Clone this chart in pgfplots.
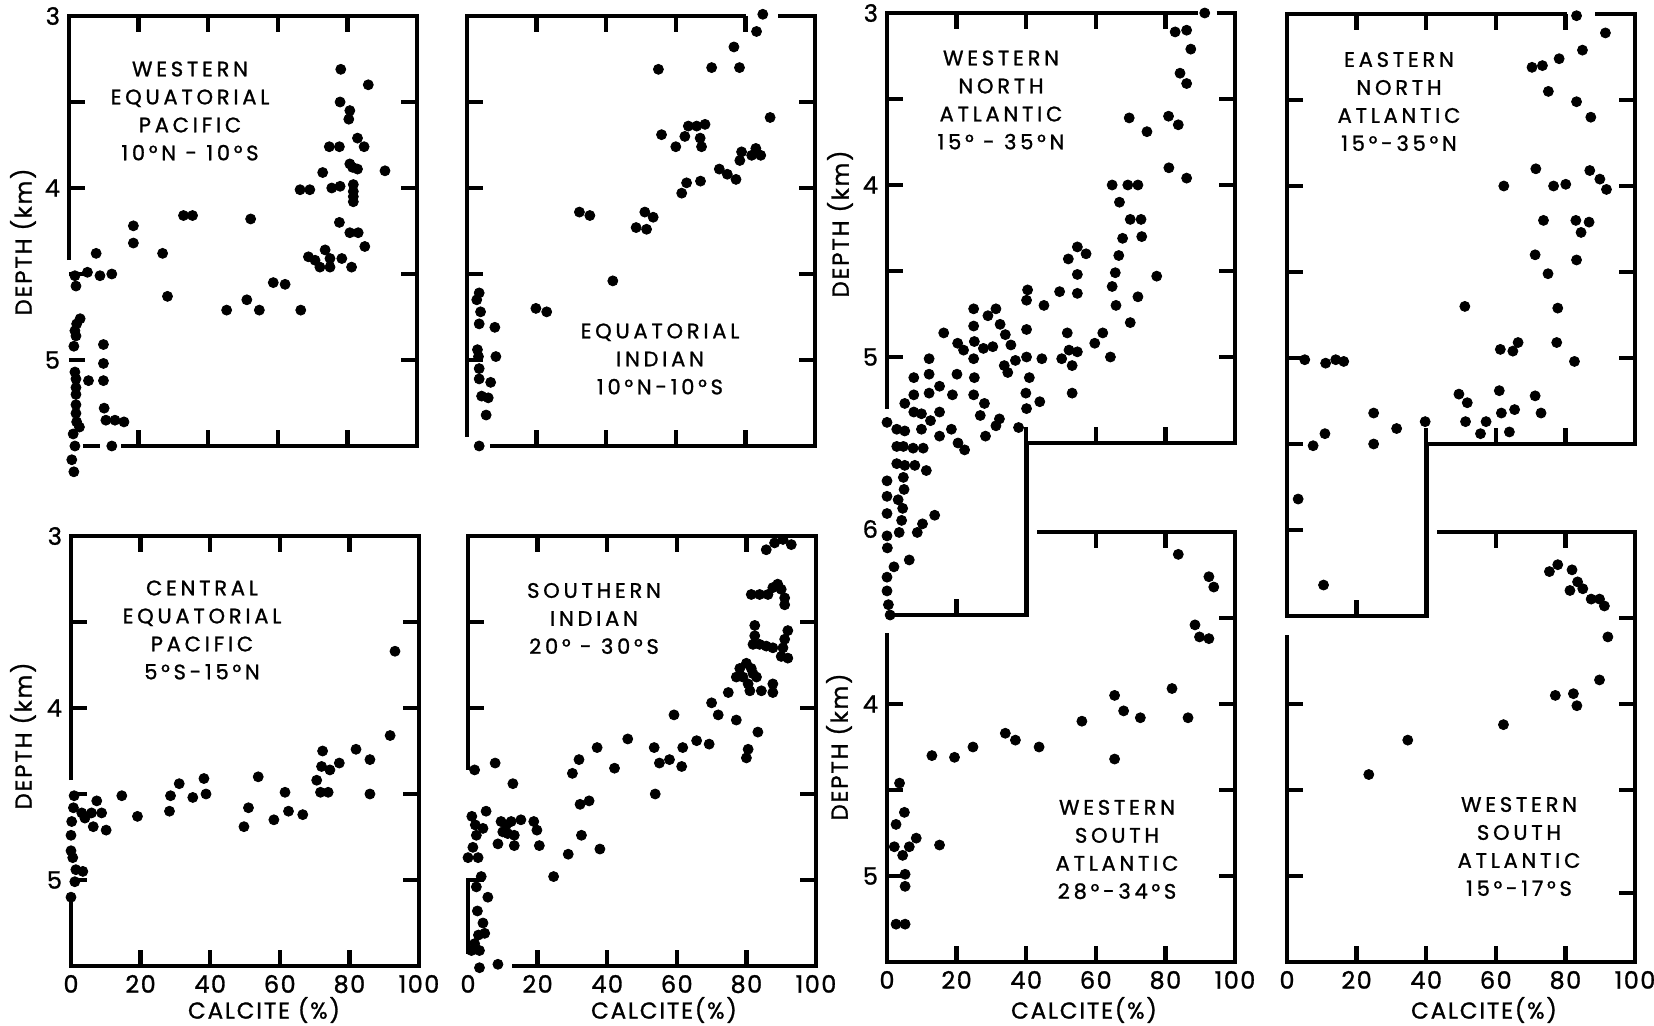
\documentclass[border=0pt]{standalone}
\usepackage{fontspec}
\setmainfont{Poppins}
\newfontfamily\labfont[LetterSpace=18, FakeBold=1.2]{Poppins}
\newfontfamily\axlfont[LetterSpace=8, FakeBold=1.2]{Poppins}
\newfontfamily\numfont[LetterSpace=6, FakeBold=1.2]{Poppins}
\usepackage{pgfplots}
\pgfplotsset{compat=1.18}
\newcommand\ttlfont{\labfont\fontsize{10.5}{14}\selectfont}
\newcommand\axfont{\axlfont\fontsize{11.5}{12}\selectfont}
\newcommand\tT[2]{\pgfplotsinvokeforeach{#2}{\draw[tk] (axis cs:##1,#1) -- ++(0pt,-8pt);}}
\newcommand\tB[2]{\pgfplotsinvokeforeach{#2}{\draw[tk] (axis cs:##1,#1) -- ++(0pt,8pt);}}
\newcommand\tL[2]{\pgfplotsinvokeforeach{#2}{\draw[tk] (axis cs:#1,##1) -- ++(8pt,0pt);}}
\newcommand\tR[2]{\pgfplotsinvokeforeach{#2}{\draw[tk] (axis cs:#1,##1) -- ++(-8pt,0pt);}}
\begin{document}
\begin{tikzpicture}
\useasboundingbox (0,0) rectangle (827pt,-513pt);
\tikzset{fr/.style={line width=2.3pt, black, line join=miter},
         tk/.style={line width=2.2pt, black}}
\pgfplotsset{
  panel/.style={
    scale only axis, width=174pt, anchor=north west,
    xmin=0, xmax=100, y dir=reverse,
    axis line style={draw=none},
    major tick length=0pt, tick style={draw=none},
    clip=false,
    xtick pos=bottom, ytick pos=left,
    ticklabel style={font=\numfont\fontsize{12}{12}\selectfont},
    /pgf/number format/assume math mode=true,
    yticklabel style={xshift=-1pt},
    xticklabel style={yshift=-1pt},
  },
  pts/.style={only marks, mark=*, mark size=2.5pt, black},
}
% ---------- P1 Western Equatorial Pacific
\begin{axis}[panel, at={(34.5pt,-8pt)}, height=215pt, ymin=3, ymax=5.5, ytick={3,4,5}, xtick=\empty]
\addplot[pts] coordinates {(78.1,3.31) (86.0,3.40) (77.9,3.50) (80.7,3.55) (80.4,3.60) (82.9,3.71) (84.8,3.76) (74.8,3.76) (77.7,3.76) (80.7,3.86) (82.9,3.89) (81.5,3.88) (90.8,3.90) (72.9,3.91) (66.4,4.01) (69.2,4.01) (75.5,4.00) (77.9,3.99) (81.7,3.98) (81.7,4.02) (81.7,4.05) (81.7,4.08) (77.7,4.20) (80.7,4.26) (83.1,4.26) (85.0,4.34) (73.6,4.36) (68.8,4.40) (70.7,4.42) (75.0,4.41) (78.4,4.41) (72.1,4.46) (75.0,4.46) (81.2,4.46) (58.7,4.55) (62.1,4.56) (51.1,4.65) (45.3,4.71) (54.7,4.71) (66.6,4.71) (52.2,4.18) (32.9,4.16) (35.5,4.16) (18.5,4.22) (18.5,4.32) (26.9,4.38) (28.3,4.63) (7.8,4.38) (5.3,4.49) (1.7,4.51) (2.0,4.57) (8.9,4.51) (12.3,4.50) (3.2,4.76) (2.2,4.79) (1.7,4.83) (2.0,4.86) (1.4,4.92) (9.9,4.91) (9.9,5.02) (9.9,5.12) (5.6,5.12) (1.7,5.07) (2.0,5.11) (2.0,5.16) (2.0,5.20) (2.0,5.26) (2.0,5.31) (2.2,5.36) (3.0,5.39) (1.2,5.43) (1.7,5.50) (0.8,5.58) (1.4,5.65) (10.1,5.28) (10.6,5.35) (13.2,5.35) (15.8,5.36) (12.3,5.50)};
\draw[fr] (axis cs:0,4.42) -- (axis cs:0,3) -- (axis cs:100,3) -- (axis cs:100,5.5) -- (axis cs:15,5.5);
\draw[fr] (axis cs:4,5.5) -- (axis cs:9,5.5);
\tT{3}{20,40,60,80}\tB{5.5}{20,40,60,80}\tL{0}{3.5,4,4.5,5}\tR{100}{3.5,4,4.5,5}
\end{axis}
% ---------- P2 Equatorial Indian
\begin{axis}[panel, at={(233.5pt,-8pt)}, height=215pt, ymin=3, ymax=5.5, ytick=\empty, xtick=\empty]
\addplot[pts] coordinates {(85.0,2.99) (83.2,3.09) (76.7,3.18) (70.3,3.30) (78.3,3.30) (55.0,3.31) (87.1,3.59) (55.9,3.69) (63.6,3.64) (66.0,3.64) (68.4,3.63) (62.6,3.70) (67.0,3.71) (67.4,3.76) (60.0,3.76) (78.9,3.79) (78.4,3.84) (81.8,3.81) (83.0,3.77) (84.4,3.81) (72.5,3.89) (74.8,3.92) (77.3,3.95) (63.1,3.97) (61.7,4.03) (67.1,3.96) (32.3,4.14) (35.3,4.16) (51.1,4.14) (53.5,4.17) (48.6,4.23) (51.6,4.24) (41.9,4.54) (19.8,4.70) (22.9,4.72) (3.5,4.61) (2.8,4.65) (3.9,4.72) (3.5,4.79) (8.0,4.81) (3.0,4.94) (3.3,4.98) (8.3,4.98) (3.5,5.05) (3.5,5.11) (6.8,5.13) (4.2,5.21) (6.1,5.22) (5.5,5.32) (3.5,5.50)};
\draw[fr] (axis cs:80.2,3) -- (axis cs:0,3) -- (axis cs:0,5.45);
\draw[fr] (axis cs:6.6,5.5) -- (axis cs:100,5.5) -- (axis cs:100,3) -- (axis cs:89.5,3);
\tT{3}{20,40,60,80}\tB{5.5}{20,40,60,80}\tL{0}{3.5,4,4.5,5}\tR{100}{3.5,4,4.5,5}
\end{axis}
% ---------- P3 Central Equatorial Pacific
\begin{axis}[panel, at={(35.5pt,-268pt)}, height=215pt, ymin=3, ymax=5.5, ytick={3,4,5}, xtick={0,20,40,60,80,100}]
\addplot[pts] coordinates {(93.1,3.67) (91.7,4.16) (81.9,4.24) (85.9,4.30) (72.3,4.25) (72.0,4.34) (74.4,4.36) (77.1,4.32) (70.6,4.42) (71.7,4.49) (73.9,4.49) (85.9,4.50) (53.8,4.40) (38.2,4.41) (38.8,4.50) (31.1,4.44) (28.6,4.51) (35.0,4.52) (28.3,4.60) (61.5,4.49) (62.5,4.60) (66.6,4.62) (58.3,4.65) (51.0,4.58) (49.7,4.69) (14.6,4.51) (19.1,4.63) (0.9,4.51) (0.7,4.58) (0.2,4.66) (3.1,4.61) (4.0,4.64) (7.4,4.54) (5.9,4.61) (8.8,4.61) (6.4,4.69) (10.1,4.71) (0,4.74) (0,4.83) (0.5,4.87) (1.4,4.94) (3.4,4.95) (1.1,5.01) (0,5.10)};
\draw[fr] (axis cs:0,4.42) -- (axis cs:0,3) -- (axis cs:100,3) -- (axis cs:100,5.5) -- (axis cs:0,5.5) -- (axis cs:0,5.12);
\tT{3}{20,40,60,80}\tB{5.5}{20,40,60,80}\tL{0}{3.5,4,4.5,5}\tR{100}{3.5,4,4.5,5}
\end{axis}
% ---------- P4 Southern Indian
\begin{axis}[panel, at={(234pt,-268pt)}, height=215pt, ymin=3, ymax=5.5, ytick=\empty, xtick={0,20,40,60,80,100}]
\addplot[pts] coordinates {(85.7,3.08) (88.1,3.04) (90.5,3.02) (92.9,3.05) (81.4,3.34) (83.8,3.34) (86.2,3.34) (87.6,3.30) (89.0,3.28) (90.0,3.31) (91.0,3.36) (91.0,3.40) (82.4,3.52) (82.4,3.58) (81.9,3.63) (83.8,3.63) (85.7,3.64) (87.6,3.65) (91.9,3.55) (91.0,3.60) (90.5,3.65) (90.0,3.70) (91.9,3.71) (80.0,3.74) (81.4,3.77) (78.1,3.77) (77.1,3.82) (79.0,3.82) (81.9,3.80) (82.9,3.82) (80.5,3.86) (81.0,3.90) (84.3,3.90) (87.6,3.86) (87.6,3.91) (74.8,3.91) (70.0,3.97) (71.9,4.04) (77.1,4.07) (83.3,4.14) (65.7,4.19) (69.3,4.21) (80.5,4.24) (80.0,4.29) (59.2,4.04) (45.9,4.18) (37.1,4.23) (31.9,4.30) (30.0,4.38) (42.1,4.35) (53.5,4.23) (55.0,4.32) (57.9,4.30) (61.7,4.23) (61.4,4.34) (53.8,4.50) (32.2,4.56) (34.8,4.54) (32.6,4.74) (28.8,4.85) (37.9,4.82) (24.6,4.98) (1.9,4.36) (7.8,4.32) (12.9,4.44) (5.2,4.60) (1.1,4.63) (2.1,4.68) (4.3,4.70) (2.4,4.74) (1.4,4.81) (0,4.87) (2.9,4.87) (9.5,4.66) (11.0,4.68) (12.4,4.66) (10.0,4.72) (11.4,4.73) (13.3,4.74) (13.3,4.80) (8.6,4.79) (15.2,4.65) (18.9,4.66) (19.8,4.71) (20.5,4.80) (3.8,4.98) (2.4,5.04) (5.7,5.10) (2.7,5.18) (4.3,5.25) (4.8,5.31) (3.0,5.32) (1.9,5.37) (3.3,5.41) (1.0,5.41) (3.3,5.51) (8.6,5.49)};
\draw[fr] (axis cs:0,4.36) -- (axis cs:0,3) -- (axis cs:100,3) -- (axis cs:100,5.5) -- (axis cs:12.5,5.5);
\draw[fr] (axis cs:0,4.99) -- (axis cs:0,5.43);
\tT{3}{20,40,60,80}\tB{5.5}{20,40,60,80}\tL{0}{3.5,4,5}\tR{100}{3.5,4,4.5,5}
\end{axis}
% ---------- P5 Western North Atlantic
\begin{axis}[panel, at={(443.5pt,-6.5pt)}, height=301pt, ymin=3, ymax=6.5, ytick={3,4,5,6}, xtick=\empty]
\addplot[pts] coordinates {(91.3,3.00) (82.8,3.11) (86.1,3.10) (87.3,3.21) (84.2,3.35) (86.1,3.41) (69.6,3.61) (80.9,3.60) (83.7,3.65) (74.7,3.69) (81.0,3.90) (86.1,3.96) (64.7,4.00) (69.2,4.00) (72.1,4.00) (66.8,4.10) (69.9,4.20) (73.0,4.20) (67.7,4.31) (73.2,4.30) (54.7,4.36) (57.2,4.40) (52.1,4.43) (66.6,4.41) (54.7,4.52) (65.6,4.51) (77.5,4.53) (49.6,4.62) (54.7,4.63) (64.7,4.59) (40.4,4.61) (40.1,4.67) (45.1,4.70) (65.8,4.70) (72.1,4.65) (69.9,4.80) (24.9,4.72) (31.3,4.72) (29.0,4.76) (24.9,4.82) (32.5,4.81) (34.0,4.87) (35.6,4.93) (16.3,4.86) (20.3,4.92) (22.0,4.96) (25.1,4.91) (27.7,4.95) (30.4,4.94) (40.1,4.84) (51.8,4.86) (59.7,4.92) (62.0,4.86) (52.3,4.96) (54.7,4.97) (50.2,5.01) (53.2,5.05) (64.2,5.00) (44.5,5.01) (40.1,5.00) (36.9,5.02) (33.7,5.05) (34.7,5.09) (24.9,5.01) (12.1,5.01) (40.9,5.12) (20.1,5.10) (25.1,5.12) (12.1,5.10) (7.7,5.12) (15.1,5.17) (39.9,5.21) (53.2,5.21) (18.8,5.22) (24.9,5.22) (12.1,5.21) (7.7,5.22) (28.0,5.27) (43.9,5.26) (40.1,5.30) (5.1,5.27) (7.7,5.32) (9.9,5.33) (12.5,5.37) (15.1,5.32) (26.8,5.34) (32.3,5.36) (31.3,5.40) (37.8,5.41) (0,5.38) (2.8,5.42) (5.1,5.43) (9.9,5.42) (15.1,5.46) (18.5,5.42) (28.3,5.46) (2.8,5.52) (4.7,5.52) (7.5,5.53) (10.4,5.53) (20.4,5.50) (22.3,5.54) (2.8,5.62) (5.1,5.63) (8.0,5.63) (11.3,5.66) (4.7,5.70) (0,5.72) (4.9,5.77) (0,5.81) (3.2,5.83) (4.5,5.88) (0,5.91) (4.2,5.95) (13.7,5.92) (10.2,5.97) (8.7,6.02) (3.5,6.02) (0,6.04) (0.1,6.11) (2.0,6.22) (6.4,6.18) (0,6.28) (0,6.36) (0.4,6.44) (0.9,6.50)};
\draw[fr] (axis cs:0,5.3) -- (axis cs:0,3) -- (axis cs:89.3,3);
\draw[fr] (axis cs:94.7,3) -- (axis cs:100,3) -- (axis cs:100,5.5) -- (axis cs:40,5.5) -- (axis cs:40,6.5) -- (axis cs:0.5,6.5);
\tT{3}{20,40,60,80}\tB{5.5}{40,60,80}\tB{6.5}{20}\tL{0}{3.5,4,4.5,5}\tR{100}{3.5,4,4.5,5}
\end{axis}
% ---------- P6 Eastern North Atlantic
\begin{axis}[panel, at={(643.5pt,-7pt)}, height=301pt, ymin=3, ymax=6.5, ytick=\empty, xtick=\empty]
\addplot[pts] coordinates {(83.2,3.01) (91.5,3.11) (84.9,3.21) (78.2,3.26) (70.4,3.31) (73.4,3.30) (75.1,3.45) (83.2,3.51) (87.3,3.60) (71.5,3.90) (87.0,3.91) (89.9,3.96) (91.8,4.02) (62.3,4.00) (76.6,4.00) (80.1,3.99) (73.7,4.20) (83.0,4.20) (86.8,4.21) (84.5,4.27) (71.3,4.40) (83.2,4.43) (75.0,4.51) (51.1,4.70) (77.8,4.71) (66.4,4.91) (64.9,4.96) (61.3,4.95) (77.5,4.91) (82.6,5.02) (5.1,5.01) (11.1,5.03) (14.0,5.01) (16.3,5.02) (49.4,5.21) (51.8,5.26) (61.0,5.19) (71.3,5.22) (24.9,5.32) (24.9,5.50) (31.5,5.41) (39.7,5.37) (51.3,5.37) (57.2,5.37) (61.6,5.32) (65.4,5.30) (73.0,5.32) (55.6,5.44) (63.9,5.43) (10.9,5.44) (7.5,5.51) (3.2,5.82) (10.5,6.32)};
\draw[fr] (axis cs:80.4,3) -- (axis cs:0,3) -- (axis cs:0,6.5) -- (axis cs:40,6.5) -- (axis cs:40,5.5) -- (axis cs:100,5.5) -- (axis cs:100,3) -- (axis cs:88.5,3);
\tT{3}{20,40,60,80}\tB{5.5}{40,60,80}\tB{6.5}{20}\tL{0}{3.5,4,4.5,5,5.5,6}\tR{100}{3.5,4,4.5,5}
\end{axis}
% ---------- P7 Western South Atlantic 28-34S
\begin{axis}[panel, at={(443.5pt,-266pt)}, height=215pt, ymin=3, ymax=5.5, ytick={4,5}, xtick={0,20,40,60,80,100}]
\addplot[pts] coordinates {(83.7,3.13) (92.5,3.26) (93.9,3.32) (88.5,3.54) (89.8,3.61) (92.5,3.62) (81.9,3.91) (65.4,3.95) (68.0,4.04) (72.8,4.08) (86.5,4.08) (56.0,4.10) (34.0,4.17) (36.9,4.21) (43.7,4.25) (24.7,4.25) (12.9,4.30) (19.4,4.31) (65.4,4.32) (3.6,4.46) (5.0,4.63) (2.6,4.70) (8.4,4.78) (6.4,4.83) (2.1,4.83) (4.5,4.88) (15.1,4.82) (5.2,4.99) (5.2,5.06) (2.6,5.28) (5.2,5.28)};
\draw[fr] (axis cs:0,3.59) -- (axis cs:0,5.5) -- (axis cs:100,5.5) -- (axis cs:100,3) -- (axis cs:43,3);
\tT{3}{60,80}\tB{5.5}{20,40,60,80}\tL{0}{4,4.5,5}\tR{100}{3.5,4,4.5,5}
\end{axis}
% ---------- P8 Western South Atlantic 15-17S
\begin{axis}[panel, at={(643.5pt,-266pt)}, height=215pt, ymin=3, ymax=5.5, ytick=\empty, xtick={0,20,40,60,80,100}]
\addplot[pts] coordinates {(75.4,3.23) (77.8,3.19) (81.9,3.22) (83.5,3.29) (85.0,3.33) (81.3,3.34) (87.4,3.39) (89.8,3.39) (91.2,3.43) (92.2,3.61) (89.8,3.86) (77.1,3.95) (82.3,3.94) (83.3,4.01) (62.2,4.12) (34.7,4.21) (23.5,4.41)};
\draw[fr] (axis cs:0,3.6) -- (axis cs:0,5.5) -- (axis cs:100,5.5) -- (axis cs:100,3) -- (axis cs:43,3);
\tT{3}{60,80}\tB{5.5}{20,40,60,80}\tL{0}{4,4.5,5}\tR{100}{3.5,4,4.5,5.1}
\end{axis}
% ---------- texts
\node[font=\ttlfont, align=center] at (95pt,-55.5pt) {WESTERN\\EQUATORIAL\\PACIFIC\\10°N - 10°S};
\node[font=\ttlfont, align=center] at (330pt,-179.5pt) {EQUATORIAL\\INDIAN\\10°N-10°S};
\node[font=\ttlfont, align=center] at (101pt,-315pt) {CENTRAL\\EQUATORIAL\\PACIFIC\\5°S-15°N};
\node[font=\ttlfont, align=center] at (297pt,-309.25pt) {SOUTHERN\\INDIAN\\20° - 30°S};
\node[font=\ttlfont, align=center] at (500.5pt,-50pt) {WESTERN\\NORTH\\ATLANTIC\\15° - 35°N};
\node[font=\ttlfont, align=center] at (699.5pt,-50.75pt) {EASTERN\\NORTH\\ATLANTIC\\15°-35°N};
\node[font=\ttlfont, align=center] at (558.5pt,-424.75pt) {WESTERN\\SOUTH\\ATLANTIC\\28°-34°S};
\node[font=\ttlfont, align=center] at (759.5pt,-423.25pt) {WESTERN\\SOUTH\\ATLANTIC\\15°-17°S};
\node[font=\axfont, rotate=90] at (11.5pt,-121pt) {DEPTH (km)};
\node[font=\axfont, rotate=90] at (11.5pt,-368pt) {DEPTH (km)};
\node[font=\axfont, rotate=90] at (420pt,-112pt) {DEPTH (km)};
\node[font=\axfont, rotate=90] at (419.5pt,-373.5pt) {DEPTH (km)};
\node[font=\axfont] at (132pt,-505pt) {CALCITE (\%)};
\node[font=\axfont] at (332pt,-505pt) {CALCITE(\%)};
\node[font=\axfont] at (542pt,-505pt) {CALCITE(\%)};
\node[font=\axfont] at (742pt,-505pt) {CALCITE(\%)};
\end{tikzpicture}
\end{document}
